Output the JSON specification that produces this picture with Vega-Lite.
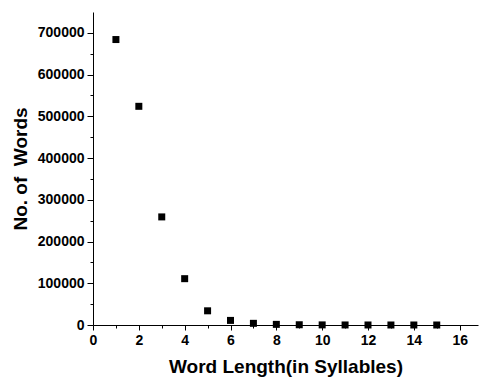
{
  "$schema": "https://vega.github.io/schema/vega-lite/v6.json",
  "autosize": {"type": "none"},
  "padding": {"left": 93, "top": 12, "right": 2, "bottom": 55},
  "width": 385,
  "height": 313,
  "background": "white",
  "config": {
    "view": {"stroke": null},
    "font": "Liberation Sans",
    "axis": {
      "grid": false,
      "domainColor": "black",
      "tickColor": "black",
      "labelColor": "black",
      "titleColor": "black",
      "labelFont": "Liberation Sans",
      "titleFont": "Liberation Sans",
      "labelFontWeight": "bold",
      "titleFontWeight": "bold",
      "labelFontSize": 14,
      "titleFontSize": 19,
      "domainWidth": 1,
      "tickWidth": 1
    }
  },
  "data": {
    "values": [
      {"syllables": 1, "words": 684000},
      {"syllables": 2, "words": 524000},
      {"syllables": 3, "words": 259000},
      {"syllables": 4, "words": 111000},
      {"syllables": 5, "words": 34000},
      {"syllables": 6, "words": 11000},
      {"syllables": 7, "words": 4000},
      {"syllables": 8, "words": 1500},
      {"syllables": 9, "words": 600},
      {"syllables": 10, "words": 250},
      {"syllables": 11, "words": 100},
      {"syllables": 12, "words": 50},
      {"syllables": 13, "words": 20},
      {"syllables": 14, "words": 10},
      {"syllables": 15, "words": 5}
    ]
  },
  "mark": {"type": "square", "size": 49, "color": "black", "opacity": 1, "filled": true, "clip": false},
  "encoding": {
    "x": {
      "field": "syllables",
      "type": "quantitative",
      "scale": {"domain": [0, 16.8], "nice": false, "zero": false},
      "axis": {
        "title": "Word Length(in Syllables)",
        "values": [0,1,2,3,4,5,6,7,8,9,10,11,12,13,14,15,16],
        "labelExpr": "datum.value % 2 === 0 ? datum.label : ''",
        "tickSize": {"condition": {"test": "datum.value % 2 === 0", "value": 5}, "value": 3},
        "labelPadding": 3,
        "titlePadding": 10,
        "labelFlush": false,
        "labelOverlap": false
      }
    },
    "y": {
      "field": "words",
      "type": "quantitative",
      "scale": {"domain": [0, 750000], "nice": false},
      "axis": {
        "title": "No. of\u00a0 Words",
        "values": [0,50000,100000,150000,200000,250000,300000,350000,400000,450000,500000,550000,600000,650000,700000],
        "labelExpr": "datum.value % 100000 === 0 ? format(datum.value, 'd') : ''",
        "tickSize": {"condition": {"test": "datum.value % 100000 === 0", "value": 6}, "value": 3},
        "labelPadding": 3,
        "titlePadding": 7,
        "labelFlush": false,
        "labelOverlap": false
      }
    }
  }
}
